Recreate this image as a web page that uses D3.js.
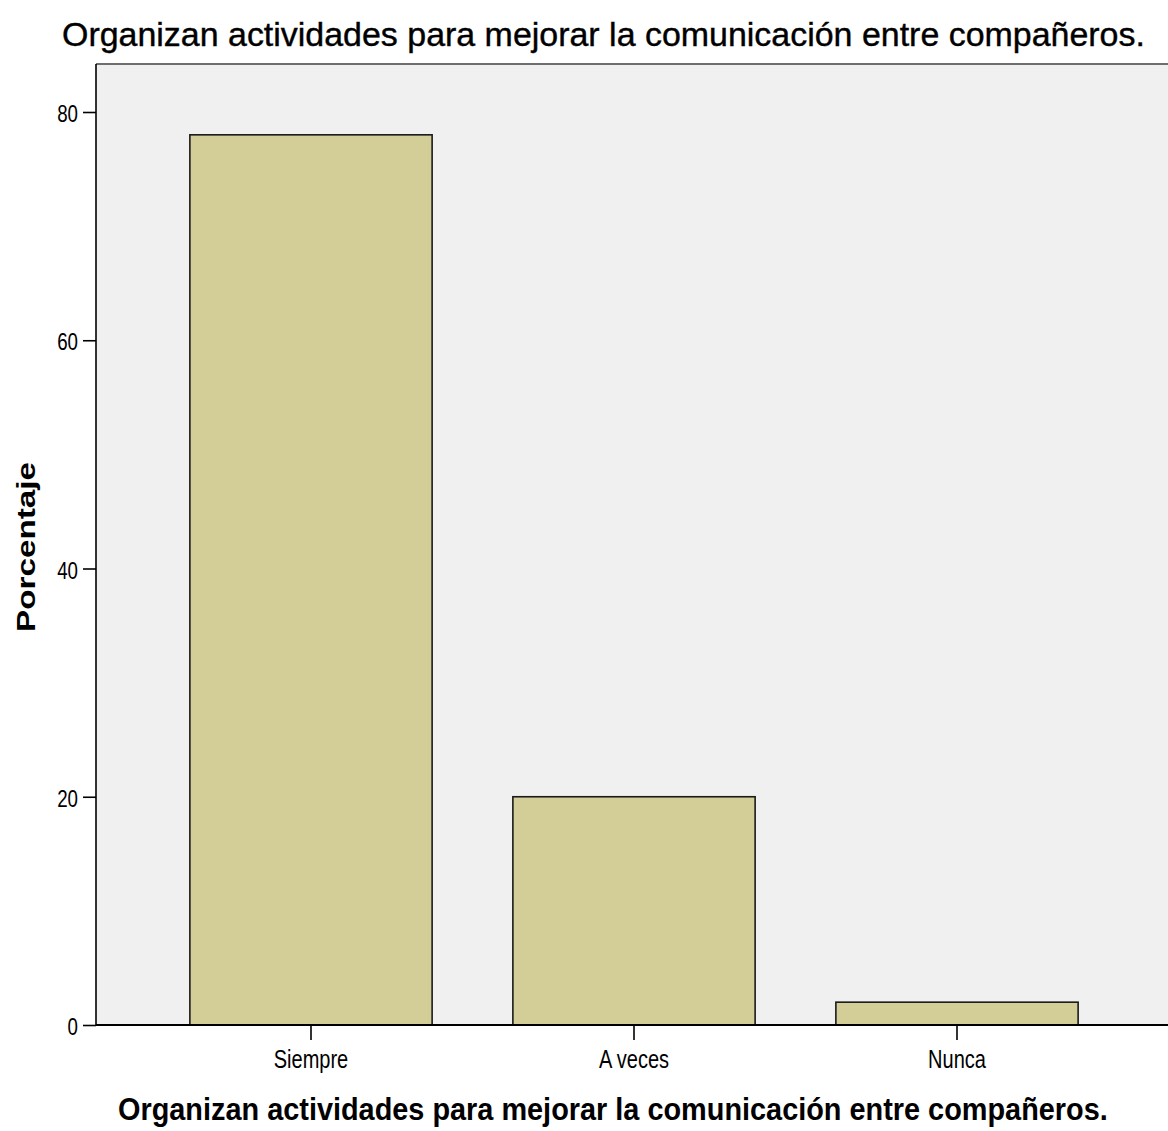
<!DOCTYPE html>
<html>
<head>
<meta charset="utf-8">
<script src="https://cdn.jsdelivr.net/npm/d3@7"></script>
<style>
  body { margin: 0; background: #fff; overflow: hidden; }
  svg { display: block; }
  text { font-family: "Liberation Sans", Arial, sans-serif; fill: #000; }
</style>
</head>
<body>
<div id="chart"></div>
<script>
const categories = ["Siempre", "A veces", "Nunca"];
const percentages = [78, 20, 2];
const yTicks = [0, 20, 40, 60, 80];
const titleText = "Organizan actividades para mejorar la comunicación entre compañeros.";
const yLabel = "Porcentaje";

var width = 1168, height = 1131;
var plot = { left: 96, top: 64, right: 1168, bottom: 1025 };

var svg = d3.select("#chart").append("svg")
  .attr("width", width)
  .attr("height", height);

var xScale = d3.scaleBand()
  .domain(categories)
  .range([149.5, 1118.5])
  .paddingInner(0.25)
  .paddingOuter(0.125);

var yScale = d3.scaleLinear()
  .domain([0, 80])
  .range([plot.bottom, 112]);

// squeeze text horizontally so it looks like the narrow font of the original
function narrow(sel, factor) {
  sel.each(function () {
    var w = this.getComputedTextLength();
    d3.select(this)
      .attr("textLength", w * factor)
      .attr("lengthAdjust", "spacingAndGlyphs");
  });
}

// text placed at (x, y) and scaled in x so that it is exactly w pixels wide
function fitText(x, y, w, size, weight, str) {
  var g = svg.append("g");
  var t = g.append("text")
    .attr("font-size", size)
    .attr("font-weight", weight)
    .text(str);
  var natural = t.node().getComputedTextLength();
  g.attr("transform", "translate(" + x + "," + y + ") scale(" + (w / natural) + ",1)");
  return t;
}

// plot background
svg.append("rect")
  .attr("x", plot.left).attr("y", plot.top)
  .attr("width", plot.right - plot.left)
  .attr("height", plot.bottom - plot.top)
  .attr("fill", "#f0f0f0");

// top frame line
svg.append("line")
  .attr("x1", plot.left).attr("x2", plot.right)
  .attr("y1", plot.top).attr("y2", plot.top)
  .attr("stroke", "#6e6e6e").attr("stroke-width", 2);

// bars
svg.selectAll(".bar")
  .data(percentages)
  .enter().append("rect")
  .attr("class", "bar")
  .attr("x", function (d, i) { return xScale(categories[i]); })
  .attr("y", function (d) { return yScale(d); })
  .attr("width", xScale.bandwidth())
  .attr("height", function (d) { return yScale(0) - yScale(d); })
  .attr("fill", "#d3ce97")
  .attr("stroke", "#1a1a1a")
  .attr("stroke-width", 1.6);

// y axis
var yAxis = svg.append("g")
  .attr("transform", "translate(" + plot.left + ",0)")
  .call(d3.axisLeft(yScale).tickValues(yTicks).tickSize(13).tickPadding(5));
yAxis.select(".domain").attr("d", "M0," + plot.top + "V" + plot.bottom).attr("stroke", "#000").attr("stroke-width", 1.6);
yAxis.selectAll(".tick line").attr("stroke", "#000").attr("stroke-width", 1.6);
yAxis.selectAll(".tick text")
  .attr("font-size", 24)
  .attr("dy", "0.4em")
  .attr("fill", "#000")
  .call(narrow, 0.78);

// x axis
var xAxis = svg.append("g")
  .attr("transform", "translate(0," + plot.bottom + ")")
  .call(d3.axisBottom(xScale).tickSize(15).tickPadding(7));
xAxis.select(".domain").attr("d", "M" + plot.left + ",0H" + plot.right).attr("stroke", "#000").attr("stroke-width", 1.8);
xAxis.selectAll(".tick line").attr("stroke", "#000").attr("stroke-width", 1.6);
xAxis.selectAll(".tick text")
  .attr("font-size", 25)
  .attr("dy", "0.85em")
  .attr("fill", "#000")
  .call(narrow, 0.8);

// title
fitText(62, 46, 1083, 34, "normal", titleText)
  .style("stroke", "#000").style("stroke-width", 0.4);

// x axis label
fitText(118, 1120, 990, 32, "bold", titleText);

// y axis label
svg.append("text")
  .attr("transform", "translate(35,547) rotate(-90)")
  .attr("text-anchor", "middle")
  .attr("font-size", 26)
  .attr("font-weight", "bold")
  .attr("textLength", 170)
  .attr("lengthAdjust", "spacingAndGlyphs")
  .text(yLabel);
</script>
</body>
</html>
